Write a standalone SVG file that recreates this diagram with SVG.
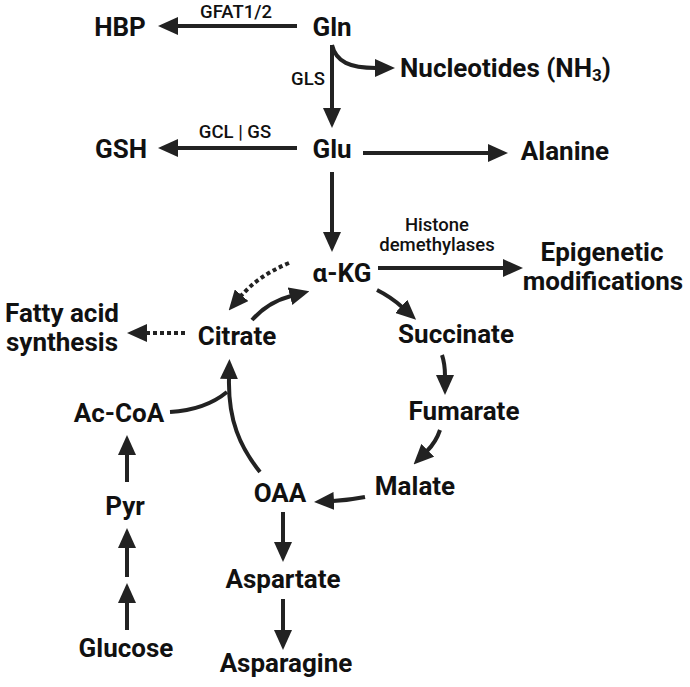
<svg xmlns="http://www.w3.org/2000/svg" width="690" height="687" viewBox="0 0 690 687">
<style>
text{font-family:Roboto,"Liberation Sans",sans-serif;fill:#111}
.m{font-size:26px;font-weight:700}
.s{font-size:18.5px;font-weight:500}
.c{text-anchor:middle}
.a{fill:none;stroke:#222;stroke-width:4;marker-end:url(#ah)}
.d{stroke-dasharray:4 3}
</style>
<defs>
<marker id="ah" viewBox="0 -9 20 18" refX="1" refY="0" markerWidth="20" markerHeight="18" markerUnits="userSpaceOnUse" orient="auto">
<path d="M0,-9 L20,0 L0,9 z" fill="#222"/>
</marker>
</defs>
<rect width="690" height="687" fill="#fff"/>
<g id="connectors">
<path class="a" d="M297,26 L177,26"/>
<path class="a" d="M332,45 L332,109"/>
<path class="a" d="M332,45 C336,62 350,68 376,68"/>
<path class="a" d="M297,148 L177,148"/>
<path class="a" d="M363,153 L489,153"/>
<path class="a" d="M332,172 L332,233"/>
<path class="a" d="M378,268 L504,268"/>
<path class="a" d="M377,290 Q391,297 402,307"/>
<path class="a" d="M442,355 Q445,364 445,376"/>
<path class="a" d="M440,430 Q436,442 427,451"/>
<path class="a" d="M365,497 Q350,500 333,501"/>
<path class="a" d="M283,512 L283,543"/>
<path class="a" d="M283,599 L283,631"/>
<path class="a" d="M260,472 C240,447 228,420 229,378"/>
<path fill="none" stroke="#222" stroke-width="4" d="M170,412 Q205,410 227,392"/>
<path class="a" d="M252,320 Q268,302 291,296"/>
<path class="a d" d="M289,263 Q258,276 241,296"/>
<path class="a d" d="M185,333 L146,333"/>
<path class="a" d="M127,482 L127,454"/>
<path class="a" d="M127,630 L127,602"/>
<path class="a" d="M127,577 L127,547"/>
</g>
<g id="labels">
<text class="s c" x="236" y="18">GFAT1/2</text>
<text class="s c" x="308" y="85">GLS</text>
<text class="s c" x="235" y="138">GCL | GS</text>
<text class="s c" x="437" y="231">Histone</text>
<text class="s c" x="437" y="251">demethylases</text>
</g>
<g id="HBP"><text class="m c" x="120" y="36">HBP</text></g>
<g id="Gln"><text class="m c" x="332" y="36">Gln</text></g>
<g id="Nucleotides"><text class="m" x="400" y="77">Nucleotides (NH<tspan font-size="17" dy="4">3</tspan><tspan dy="-4">)</tspan></text></g>
<g id="GSH"><text class="m c" x="121" y="158">GSH</text></g>
<g id="Glu"><text class="m c" x="332" y="158">Glu</text></g>
<g id="Alanine"><text class="m c" x="565" y="160">Alanine</text></g>
<g id="aKG"><text class="m c" x="342" y="282">α-KG</text></g>
<g id="Epigenetic"><text class="m c" x="602" y="261">Epigenetic</text><text class="m c" x="603" y="290">modifications</text></g>
<g id="Succinate"><text class="m c" x="456" y="343">Succinate</text></g>
<g id="Fumarate"><text class="m c" x="464" y="420">Fumarate</text></g>
<g id="Malate"><text class="m c" x="415" y="495">Malate</text></g>
<g id="OAA"><text class="m c" x="280" y="502">OAA</text></g>
<g id="Aspartate"><text class="m c" x="283" y="588">Aspartate</text></g>
<g id="Asparagine"><text class="m c" x="286" y="672">Asparagine</text></g>
<g id="Citrate"><text class="m c" x="237" y="345">Citrate</text></g>
<g id="FattyAcid"><text class="m c" x="62" y="322">Fatty acid</text><text class="m c" x="62" y="351">synthesis</text></g>
<g id="AcCoA"><text class="m c" x="119" y="422">Ac-CoA</text></g>
<g id="Pyr"><text class="m c" x="125" y="515">Pyr</text></g>
<g id="Glucose"><text class="m c" x="126" y="657">Glucose</text></g>
</svg>
